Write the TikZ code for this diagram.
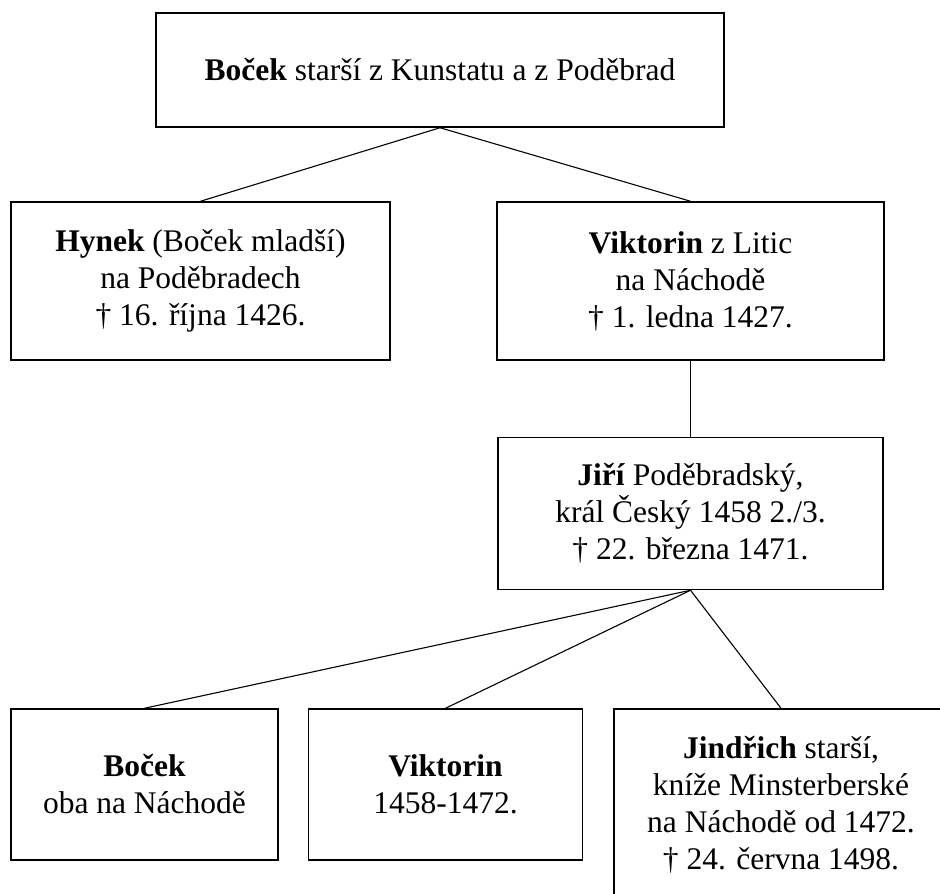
\documentclass[tikz,border=0pt]{standalone}
\usepackage{fontspec}
\setmainfont{Liberation Serif}
\usepackage{tikz}
\usetikzlibrary{positioning}

\begin{document}
\begin{tikzpicture}[
    x=1pt, y=-1pt,
    font=\fontsize{31.5}{37}\selectfont,
    person/.style={rectangle, draw=black, line width=1.5pt, align=center, inner sep=2pt},
    line/.style={line width=1.1pt}
]
\useasboundingbox (0,0) rectangle (940,894);
\clip (0,0) rectangle (940,894);

% Top
\node[person, minimum width=568pt, minimum height=114pt] (bocek) at (440,70) {\textbf{Boček} starší z Kunstatu a z Poděbrad};

% Sons
\node[person, minimum width=379pt, minimum height=158pt] (hynek) at (200.5,281) {\textbf{Hynek} (Boček mladší)\\na Poděbradech\\† 16. října 1426.};
\node[person, minimum width=387pt, minimum height=158pt] (viktorin) at (690.5,281) {\textbf{Viktorin} z Litic\\na Náchodě\\† 1. ledna 1427.};

% Jiri
\node[person, minimum width=385pt, minimum height=152pt, below=76pt of viktorin] (jiri) {\textbf{Jiří} Poděbradský,\\král Český 1458 2./3.\\† 22. března 1471.};

% Grandsons
\node[person, minimum width=267pt, minimum height=151pt] (bocekml) at (144.5,784.5) {\textbf{Boček}\\oba na Náchodě};
\node[person, minimum width=274pt, minimum height=151pt, right=29pt of bocekml] (viktorinml) {\textbf{Viktorin}\\1458-1472.};
\node[person, minimum width=334pt, minimum height=192pt, right=30pt of viktorinml.north east, anchor=north west] (jindrich) {\textbf{Jindřich} starší,\\kníže Minsterberské\\na Náchodě od 1472.\\† 24. června 1498.};

% Lines
\draw[line] (bocek.south) -- (hynek.north);
\draw[line] (bocek.south) -- (viktorin.north);
\draw[line] (viktorin.south) -- (jiri.north);
\draw[line] (jiri.south) -- (bocekml.north);
\draw[line] (jiri.south) -- (viktorinml.north);
\draw[line] (jiri.south) -- (jindrich.north);

\end{tikzpicture}
\end{document}
